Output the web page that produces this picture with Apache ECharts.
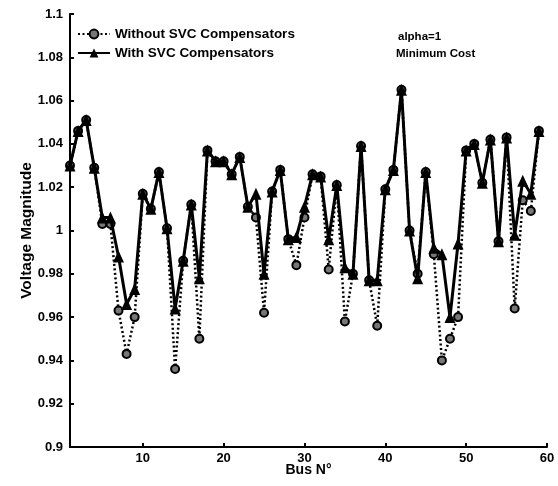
<!DOCTYPE html>
<html><head><meta charset="utf-8">
<script src="https://cdn.jsdelivr.net/npm/echarts@6/dist/echarts.min.js"></script>
<style>html,body{margin:0;padding:0;background:#fff}#c{width:558px;height:486px}</style>
</head><body><div id="c"></div>
<script>
const buses = [1,2,3,4,5,6,7,8,9,10,11,12,13,14,15,16,17,18,19,20,21,22,23,24,25,26,27,28,29,30,31,32,33,34,35,36,37,38,39,40,41,42,43,44,45,46,47,48,49,50,51,52,53,54,55,56,57,58,59];
const withoutSVC = [1.030,1.046,1.051,1.029,1.003,1.003,0.963,0.943,0.960,1.017,1.010,1.027,1.001,0.936,0.986,1.012,0.950,1.037,1.032,1.032,1.026,1.034,1.011,1.006,0.962,1.018,1.028,0.996,0.984,1.006,1.026,1.025,0.982,1.021,0.958,0.980,1.039,0.977,0.956,1.019,1.028,1.065,1.000,0.980,1.027,0.989,0.940,0.950,0.960,1.037,1.040,1.022,1.042,0.995,1.043,0.964,1.014,1.009,1.046];
const withSVC = [1.030,1.046,1.051,1.029,1.006,1.006,0.988,0.966,0.973,1.017,1.010,1.027,1.001,0.964,0.986,1.012,0.978,1.037,1.032,1.032,1.026,1.034,1.011,1.017,0.980,1.018,1.028,0.996,0.997,1.011,1.026,1.025,0.996,1.021,0.983,0.980,1.039,0.977,0.977,1.019,1.028,1.065,1.000,0.978,1.027,0.992,0.989,0.960,0.994,1.037,1.040,1.022,1.042,0.995,1.043,0.998,1.023,1.017,1.046];
const xTicks = [10,20,30,40,50,60];
const yTicks = [0.9,0.92,0.94,0.96,0.98,1,1.02,1.04,1.06,1.08,1.1];

const font = '"Liberation Sans", Arial, sans-serif';
const chart = echarts.init(document.getElementById('c'));
chart.setOption({
  animation: false,
  backgroundColor: '#fff',
  grid: {left: 70, right: 11, top: 14, bottom: 39},
  legend: {
    left: 72, top: 22, orient: 'vertical', itemGap: 5, itemWidth: 32, itemHeight: 11,
    textStyle: {color: '#000', fontFamily: font, fontWeight: 'bold', fontSize: 13.5},
    data: ['Without SVC Compensators', 'With SVC Compensators']
  },
  graphic: [
    {type: 'text', left: 398, top: 31, style: {text: 'alpha=1', fill: '#000', font: 'bold 11.5px ' + font}},
    {type: 'text', left: 396, top: 48, style: {text: 'Minimum Cost', fill: '#000', font: 'bold 11.5px ' + font}}
  ],
  xAxis: {
    type: 'value', min: 1, max: 60,
    name: 'Bus N°', nameLocation: 'middle', nameGap: 16, nameMoveOverlap: false,
    nameTextStyle: {color: '#000', fontFamily: font, fontWeight: 'bold', fontSize: 14},
    axisLine: {lineStyle: {color: '#000', width: 2}},
    axisTick: {inside: true, length: 4, customValues: xTicks, lineStyle: {color: '#000', width: 2}},
    axisLabel: {customValues: xTicks, color: '#000', fontFamily: font, fontWeight: 'bold', fontSize: 13, margin: 5},
    splitLine: {show: false}
  },
  yAxis: {
    type: 'value', min: 0.9, max: 1.1,
    name: 'Voltage Magnitude', nameLocation: 'middle', nameGap: 35, nameMoveOverlap: false,
    nameTextStyle: {color: '#000', fontFamily: font, fontWeight: 'bold', fontSize: 15.5},
    axisLine: {lineStyle: {color: '#000', width: 2}},
    axisTick: {inside: true, length: 4, customValues: yTicks, lineStyle: {color: '#000', width: 2}},
    axisLabel: {customValues: yTicks, color: '#000', fontFamily: font, fontWeight: 'bold', fontSize: 13, margin: 7,
      formatter: v => String(+v.toFixed(2))},
    splitLine: {show: false}
  },
  series: [
    {
      name: 'Without SVC Compensators', type: 'line',
      data: buses.map((b, i) => [b, withoutSVC[i]]),
      symbol: 'circle', symbolSize: 8,
      lineStyle: {color: '#000', width: 2.5, type: [2, 2.5]},
      itemStyle: {color: '#777', borderColor: '#000', borderWidth: 2},
      z: 2
    },
    {
      name: 'With SVC Compensators', type: 'line',
      data: buses.map((b, i) => [b, withSVC[i]]),
      symbol: 'triangle', symbolSize: [11, 12],
      lineStyle: {color: '#000', width: 3},
      itemStyle: {color: '#000'},
      z: 3
    }
  ]
});
</script></body></html>
